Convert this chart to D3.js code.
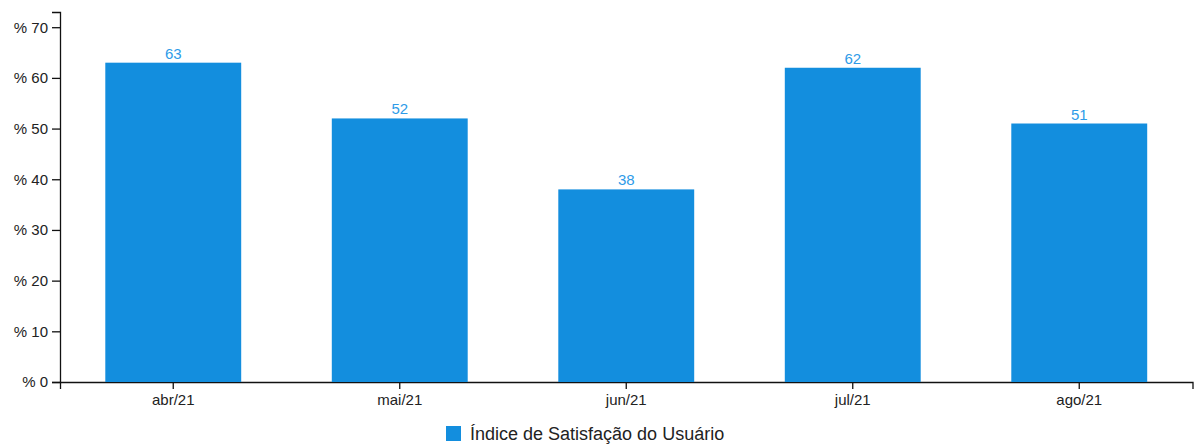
<!DOCTYPE html>
<html>
<head>
<meta charset="utf-8">
<script src="https://cdn.jsdelivr.net/npm/d3@7"></script>
<style>
  body { margin: 0; background: #fff; }
  svg text { font-family: "Liberation Sans", Arial, sans-serif; }
</style>
</head>
<body>
<div id="chart"></div>
<script>
const months = ["abr/21", "mai/21", "jun/21", "jul/21", "ago/21"]
const satisfaction = [63, 52, 38, 62, 51]
const yTicks = [0, 10, 20, 30, 40, 50, 60, 70]
const seriesName = "Índice de Satisfação do Usuário"

const width = 1194, height = 445
const margin = {top: 12, right: 2, bottom: 63, left: 60}
const barColor = "#138ede", labelColor = "#2e9be8"

const svg = d3.select("#chart")
    .append("svg")
    .attr("width", width)
    .attr("height", height)

const xScale = d3.scaleBand()
    .domain(months)
    .range([margin.left, width - margin.right + 0.5])
    .paddingInner(0.4)
    .paddingOuter(0.2)

const yScale = d3.scaleLinear()
    .domain([0, 73])
    .range([height - margin.bottom, margin.top])

// y axis
const yAxis = svg.append("g")
    .attr("transform", "translate(" + margin.left + ",0)")
    .call(d3.axisLeft(yScale).tickValues(yTicks).tickSize(8).tickPadding(4)
        .tickFormat(d => "% " + d))
yAxis.selectAll("text").style("font-size", "15px").attr("fill", "#222")
yAxis.selectAll("path, line").attr("stroke", "#111").attr("stroke-width", 1.3)

// x axis
const xAxis = svg.append("g")
    .attr("transform", "translate(0," + (height - margin.bottom) + ")")
    .call(d3.axisBottom(xScale).tickSize(7).tickPadding(5))
xAxis.selectAll("text").style("font-size", "15px").attr("fill", "#222")
xAxis.selectAll("path, line").attr("stroke", "#111").attr("stroke-width", 1.3)

// bars
svg.selectAll(".bar")
    .data(satisfaction)
    .enter().append("rect")
    .attr("class", "bar")
    .attr("x", (d, i) => xScale(months[i]))
    .attr("width", xScale.bandwidth())
    .attr("y", d => yScale(d))
    .attr("height", d => yScale(0) - yScale(d))
    .attr("fill", barColor)

// value labels
svg.selectAll(".label")
    .data(satisfaction)
    .enter().append("text")
    .attr("class", "label")
    .attr("x", (d, i) => xScale(months[i]) + xScale.bandwidth() / 2)
    .attr("y", d => yScale(d) - 4)
    .attr("text-anchor", "middle")
    .style("font-size", "15px")
    .attr("fill", labelColor)
    .text(d => d)

// legend
const legend = svg.append("g")
    .attr("transform", "translate(446,426)")
legend.append("rect")
    .attr("width", 15)
    .attr("height", 15)
    .attr("fill", barColor)
legend.append("text")
    .attr("x", 24)
    .attr("y", 14)
    .style("font-size", "18px")
    .attr("fill", "#222")
    .text(seriesName)
</script>
</body>
</html>
